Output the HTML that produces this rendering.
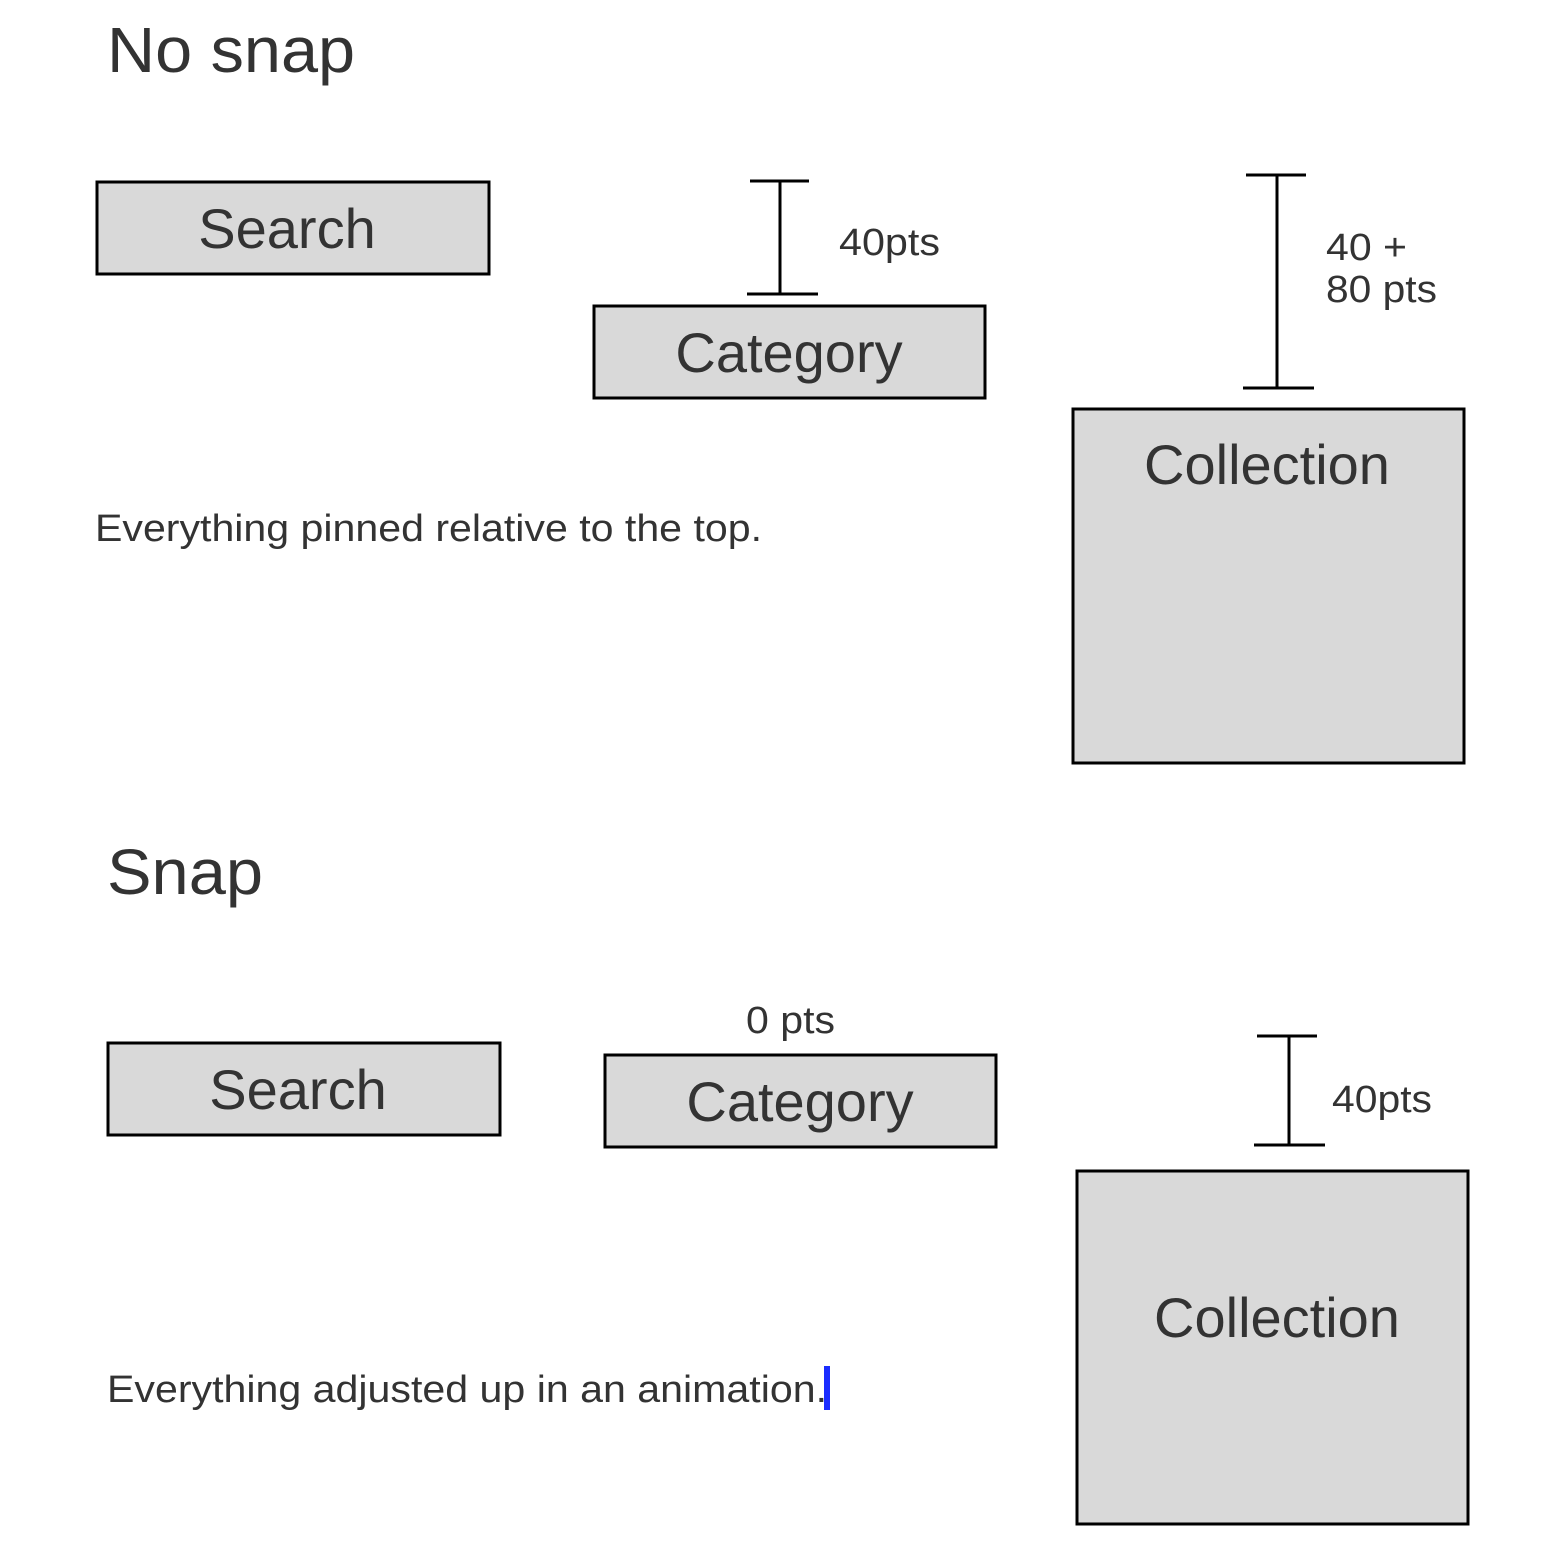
<!DOCTYPE html>
<html><head><meta charset="utf-8"><style>html,body{margin:0;padding:0;background:#fff}svg{display:block}</style></head>
<body>
<svg width="1560" height="1562" viewBox="0 0 1560 1562" xmlns="http://www.w3.org/2000/svg" font-family="Liberation Sans, Arial, sans-serif" fill="#333">
<g>
<text x="107" y="72" font-size="64" textLength="248" lengthAdjust="spacingAndGlyphs">No snap</text>
<rect x="97" y="182" width="392" height="92" fill="#d9d9d9" stroke="#000" stroke-width="3"/>
<text x="287" y="248" font-size="56" text-anchor="middle">Search</text>
<rect x="594" y="306" width="391" height="92" fill="#d9d9d9" stroke="#000" stroke-width="3"/>
<text x="789" y="372" font-size="56" text-anchor="middle">Category</text>
<rect x="1073" y="409" width="391" height="354" fill="#d9d9d9" stroke="#000" stroke-width="3"/>
<text x="1267" y="484" font-size="56" text-anchor="middle">Collection</text>
<g stroke="#000" stroke-width="3">
<line x1="780" y1="181" x2="780" y2="294"/><line x1="750" y1="181" x2="809" y2="181"/><line x1="747" y1="294" x2="818" y2="294"/>
<line x1="1277" y1="175" x2="1277" y2="388"/><line x1="1246" y1="175" x2="1306" y2="175"/><line x1="1243" y1="388" x2="1314" y2="388"/>
<line x1="1289" y1="1036" x2="1289" y2="1145"/><line x1="1257" y1="1036" x2="1317" y2="1036"/><line x1="1254" y1="1145" x2="1325" y2="1145"/>
</g>
<text x="839" y="255" font-size="38" textLength="101" lengthAdjust="spacingAndGlyphs">40pts</text>
<text x="1326" y="260" font-size="38" textLength="81" lengthAdjust="spacingAndGlyphs">40 +</text>
<text x="1326" y="302" font-size="38" textLength="111" lengthAdjust="spacingAndGlyphs">80 pts</text>
<text x="95" y="541" font-size="38" textLength="667" lengthAdjust="spacingAndGlyphs">Everything pinned relative to the top.</text>

<text x="107" y="894" font-size="64" textLength="156" lengthAdjust="spacingAndGlyphs">Snap</text>
<rect x="108" y="1043" width="392" height="92" fill="#d9d9d9" stroke="#000" stroke-width="3"/>
<text x="298" y="1109" font-size="56" text-anchor="middle">Search</text>
<text x="746" y="1033" font-size="38" textLength="89" lengthAdjust="spacingAndGlyphs">0 pts</text>
<rect x="605" y="1055" width="391" height="92" fill="#d9d9d9" stroke="#000" stroke-width="3"/>
<text x="800" y="1121" font-size="56" text-anchor="middle">Category</text>
<text x="1332" y="1112" font-size="38" textLength="100" lengthAdjust="spacingAndGlyphs">40pts</text>
<rect x="1077" y="1171" width="391" height="353" fill="#d9d9d9" stroke="#000" stroke-width="3"/>
<text x="1277" y="1337" font-size="56" text-anchor="middle">Collection</text>
<text x="107" y="1402" font-size="38" textLength="720" lengthAdjust="spacingAndGlyphs">Everything adjusted up in an animation.</text>
<rect x="824" y="1366" width="6" height="44" fill="#1a2cff"/>
</g>
</svg>
</body></html>
